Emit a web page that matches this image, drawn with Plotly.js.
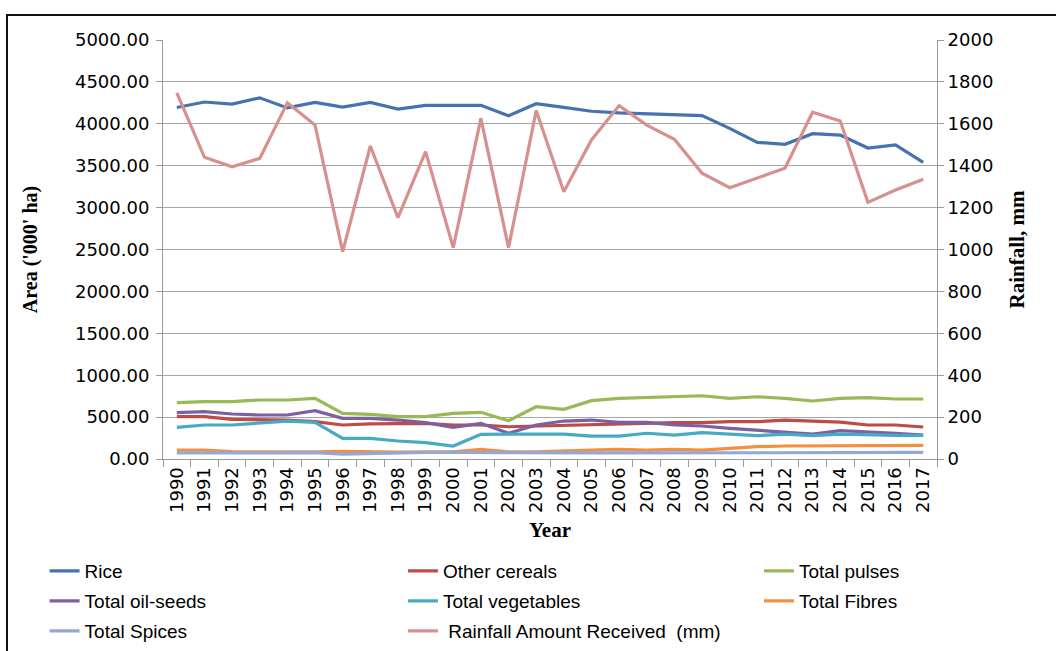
<!DOCTYPE html>
<html>
<head>
<meta charset="utf-8">
<script src="https://cdn.plot.ly/plotly-3.0.1.min.js"></script>
<style>
  html, body { margin: 0; padding: 0; background: #fff; }
  #wrap { position: relative; width: 1056px; height: 651px; }
  #chart { position: absolute; left: 0; top: 0; width: 1056px; height: 651px; }
  #frame { position: absolute; left: 6px; top: 14px; width: 1050px; height: 637px;
           border-left: 2px solid #111; border-top: 2px solid #111; pointer-events: none; }
</style>
</head>
<body>
<div id="wrap">
  <div id="chart"></div>
  <div id="frame"></div>
</div>
<script>
const years = ["1990","1991","1992","1993","1994","1995","1996","1997","1998","1999",
               "2000","2001","2002","2003","2004","2005","2006","2007","2008","2009",
               "2010","2011","2012","2013","2014","2015","2016","2017"];

const rice = [4195,4260,4235,4310,4190,4255,4200,4255,4175,4220,
              4220,4220,4095,4240,4195,4150,4130,4120,4115,4097,
              3946,3779,3755,3882,3866,3711,3747,3540];
const otherCereals = [505,505,473,473,465,445,406,418,426,426,
                      406,406,385,394,406,414,418,433,433,433,
                      445,445,465,453,441,406,406,382];
const totalPulses = [672,684,684,704,704,724,545,533,505,505,
                     545,557,457,624,593,696,724,736,743,755,
                     724,743,724,692,724,732,716,716];
const totalOilSeeds = [553,565,537,525,525,577,485,485,465,433,
                       378,426,307,406,453,465,438,438,406,394,
                       366,346,326,298,338,326,307,286];
const totalVegetables = [378,406,406,426,453,438,247,247,215,195,
                         155,295,295,295,298,274,274,307,286,314,
                         295,278,298,278,298,286,282,282];
const totalFibres = [105,105,87,85,85,85,90,82,82,85,
                     85,115,85,85,99,107,115,107,115,107,
                     127,147,155,155,155,155,155,163];
const totalSpices = [72,72,72,75,75,75,58,68,78,80,
                     78,75,75,75,75,72,72,72,75,75,
                     75,78,78,78,78,78,78,78];
const rainfall = [1748,1440,1395,1435,1701,1594,990,1494,1152,1467,
                  1009,1626,1009,1663,1276,1523,1687,1594,1526,1364,
                  1295,1343,1388,1655,1613,1225,1284,1335];

const seriesNames = ["Rice","Other cereals","Total pulses","Total oil-seeds",
                     "Total vegetables","Total Fibres","Total Spices",
                     "\u00a0Rainfall Amount Received\u00a0 (mm)"];

function mk(name, y, color, legend, group, yaxis) {
  return {
    type: 'scatter', mode: 'lines', x: years, y: y, name: name,
    line: { color: color, width: 3.2 },
    legend: legend, legendgroup: group, yaxis: yaxis || 'y',
    hoverinfo: 'x+y+name'
  };
}

const traces = [
  mk(seriesNames[0], rice, '#4673B0', 'legend', 'g1'),
  mk(seriesNames[1], otherCereals, '#BE4B48', 'legend2', 'g2'),
  mk(seriesNames[2], totalPulses, '#98B954', 'legend3', 'g3'),
  mk(seriesNames[3], totalOilSeeds, '#7D60A0', 'legend', 'g4'),
  mk(seriesNames[4], totalVegetables, '#46AAC5', 'legend2', 'g5'),
  mk(seriesNames[5], totalFibres, '#F38F3F', 'legend3', 'g6'),
  mk(seriesNames[6], totalSpices, '#92A9D8', 'legend', 'g7'),
  mk(seriesNames[7], rainfall, '#D6908E', 'legend2', 'g8', 'y2')
];

const legendFont = { family: 'Liberation Sans, Arial, sans-serif', size: 19, color: '#000' };
function leg(x) {
  return {
    x: x, y: -0.222, xanchor: 'left', yanchor: 'top',
    orientation: 'v', font: legendFont, bgcolor: 'rgba(0,0,0,0)',
    traceorder: 'grouped', tracegroupgap: 2.3, borderwidth: 0
  };
}

const tickFont = { family: 'DejaVu Sans, Verdana, sans-serif', size: 18, color: '#000' };
const titleFont = { family: 'Liberation Serif, Times New Roman, serif', size: 21, color: '#000', weight: 'bold' };

const layout = {
  width: 1056, height: 651,
  margin: { l: 163, r: 119, t: 40, b: 192, autoexpand: false },
  paper_bgcolor: '#fff', plot_bgcolor: '#fff',
  showlegend: true,
  legend: leg(-0.153),
  legend2: leg(0.310),
  legend3: leg(0.770),
  xaxis: {
    type: 'category', range: [-0.5, 27.5], tickson: 'boundaries',
    ticks: 'outside', ticklen: 7, tickcolor: '#9a9a9a', tickwidth: 1,
    showline: true, linecolor: '#9a9a9a', linewidth: 1,
    showgrid: false, tickangle: -90, tickfont: tickFont,
    title: { text: '<b>Year</b>', font: titleFont, standoff: 10 }
  },
  yaxis: {
    range: [0, 5000], dtick: 500, tickformat: '.2f',
    ticks: 'outside', ticklen: 6, tickcolor: '#9a9a9a',
    ticklabelstandoff: 3,
    showline: true, linecolor: '#9a9a9a', linewidth: 1,
    showgrid: true, gridcolor: '#a6a6a6', gridwidth: 1,
    zeroline: false, tickfont: tickFont,
    title: { text: "<b>Area ('000' ha)</b>", font: Object.assign({}, titleFont, {size: 20}), standoff: 31 }
  },
  yaxis2: {
    overlaying: 'y', side: 'right', range: [0, 2000], dtick: 200,
    ticks: 'outside', ticklen: 6, tickcolor: '#9a9a9a',
    showline: true, linecolor: '#9a9a9a', linewidth: 1,
    showgrid: false, zeroline: false, tickfont: tickFont,
    title: { text: '<b>Rainfall, mm</b>', font: titleFont, standoff: 16 }
  }
};

Plotly.newPlot('chart', traces, layout, { displayModeBar: false, staticPlot: false });
</script>
</body>
</html>
